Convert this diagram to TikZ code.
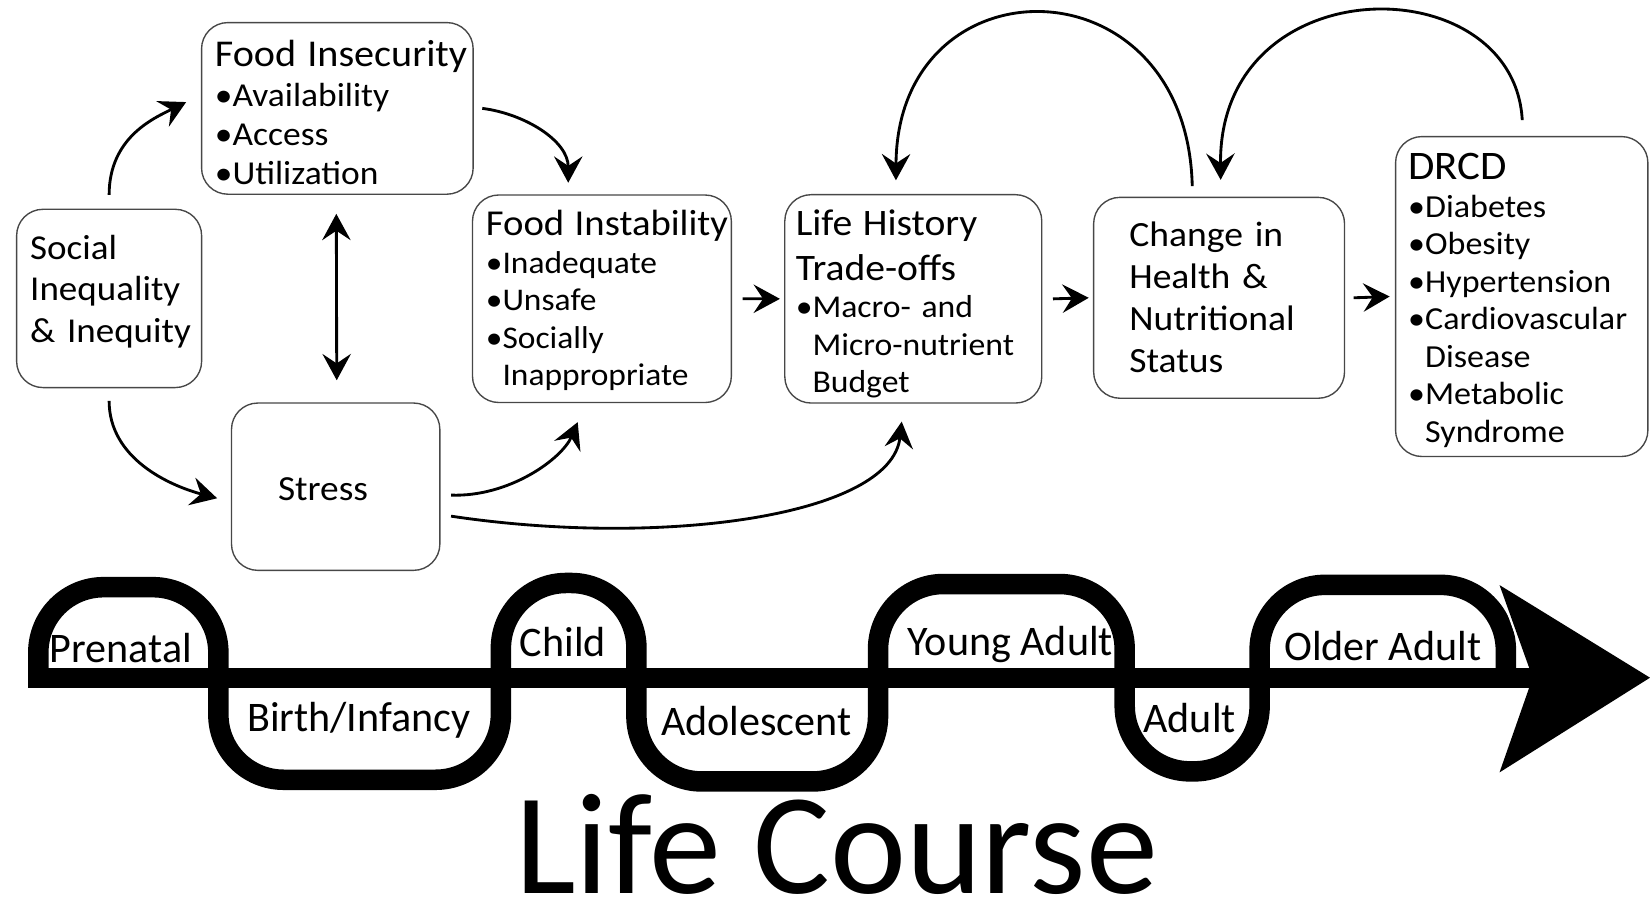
\documentclass[tikz,border=0pt]{standalone}
\usepackage{fontspec}
\setmainfont{Carlito}
\newfontfamily\boxfont{Carlito}[FakeStretch=1.06]
\usetikzlibrary{arrows.meta}
\begin{document}
\begin{tikzpicture}[x=1pt,y=-1pt,
  box/.style={draw=black!72, line width=1.3pt, rounded corners=25pt, inner sep=0pt},
  txt/.style={anchor=base west, inner sep=0pt, align=left, text width=300pt},
  tip/.tip={Stealth[length=25pt,width=27pt,inset=9pt]},
  arr/.style={-tip, line width=2.7pt},
  darr/.style={tip-tip, line width=2.7pt},
  lbl/.style={anchor=base, inner sep=0pt, font=\fontsize{40}{44}\selectfont},
  wave/.style={line width=19.5pt, rounded corners=62pt}
]
\useasboundingbox (0,0) rectangle (1568,857);

% boxes
\node[box, minimum width=175.8pt, minimum height=169.4pt] (si) at (103.7,283.6) {};
\node[box, minimum width=258.1pt, minimum height=163.1pt] (fi) at (320.6,103) {};
\node[box, minimum width=198pt, minimum height=159pt] (st) at (319,462.5) {};
\node[box, minimum width=246pt, minimum height=197.2pt] (fs) at (572,283.9) {};
\node[box, minimum width=244.2pt, minimum height=198pt] (lh) at (867.9,284) {};
\node[box, minimum width=238.4pt, minimum height=190.9pt] (ch) at (1158.5,283) {};
\node[box, minimum width=239.8pt, minimum height=304pt] (dr) at (1446.1,281.8) {};

% box texts
\node[txt, font=\boxfont\fontsize{33.2}{39.5}\selectfont] (siT) at (28.5,246.4) {Social\\Inequality\\\& Inequity};
\node[txt, font=\boxfont\fontsize{31.8}{37.5}\selectfont] (fiT) at (204,63.3) {{\fontsize{36}{37.5}\selectfont Food Insecurity}\\•Availability\\•Access\\•Utilization};
\node[txt, font=\boxfont\fontsize{33.5}{37}\selectfont] (stT) at (264,476) {Stress};
\node[txt, font=\boxfont\fontsize{30}{35.7}\selectfont] (fsT) at (461.5,224) {{\fontsize{34.7}{35.7}\selectfont Food Instability}\\•Inadequate\\•Unsafe\\•Socially\\\phantom{•}Inappropriate};
\node[txt, font=\boxfont\fontsize{30.2}{35.3}\selectfont] (lhT) at (756,224) {{\fontsize{35.5}{35}\selectfont Life History}\\[7.5pt]{\fontsize{35.5}{35}\selectfont Trade-offs}\\•Macro- and\\\phantom{•}Micro-nutrient\\\phantom{•}Budget};
\node[txt, font=\boxfont\fontsize{33.7}{39.8}\selectfont] (chT) at (1073,234.3) {Change in\\Health \&\\Nutritional\\Status};
\node[txt, font=\boxfont\fontsize{30.5}{35.6}\selectfont] (drT) at (1338,171) {{\fontsize{38.5}{35.6}\selectfont DRCD}\\•Diabetes\\•Obesity\\•Hypertension\\•Cardiovascular\\\phantom{•}Disease\\•Metabolic\\\phantom{•}Syndrome};

% connectors
\draw[arr] ([shift={(0,-13)}]si.north) .. controls +(0,-55) and +(-30,15) .. ([shift={(-14,-6)}]fi.west);
\draw[arr] ([shift={(0,12)}]si.south) .. controls +(0,55) and +(-45,-12) .. ([shift={(-13,11)}]st.west);
\draw[darr] ([shift={(-1,18)}]fi.south) -- ([shift={(1,-21)}]st.north);
\draw[arr] ([shift={(8,0)}]fi.east) .. controls +(40,5) and +(0,-40) .. ([shift={(-32,-11)}]fs.north);
\draw[arr] ([shift={(10,8)}]st.east) .. controls +(55,2) and +(-15,35) .. ([shift={(-23,18)}]fs.south);
\draw[arr] ([shift={(10,28)}]st.east) .. controls +(200,30) and +(-10,90) .. ([shift={(-11,17)}]lh.south);
\draw[arr] ([shift={(10,0)}]fs.east) -- ([shift={(-4,0)}]lh.west);
\draw[arr] ([shift={(10,0)}]lh.east) -- ([shift={(-4,0)}]ch.west);
\draw[arr] ([shift={(8,0)}]ch.east) -- ([shift={(-5,0)}]dr.west);
\draw[arr] ([shift={(-25.5,-10)}]ch.north) .. controls +(-5,-218) and +(1,-212) .. ([shift={(-16.5,-13)}]lh.north);
\draw[arr] ([shift={(0.5,-15)}]dr.north) .. controls +(-8,-147) and +(-2,-204) .. ([shift={(1.5,-16)}]ch.north);

% life course wave
\draw[line width=19pt] (26.9,644) -- (1470,644);
\draw[wave] (36.4,653.5) -- (36.4,558) -- (207.5,558) -- (207.5,741) -- (476,741) -- (476,554) -- (604.8,554)
  -- (604.8,742.6) -- (834.4,742.6) -- (834.4,555) -- (1068.8,555) -- (1068.8,733) -- (1197,733) -- (1197,555.8)
  -- (1431,555.8) -- (1431,653.5);
\draw[white, line width=4pt] (1422,548) -- (1452,632);
\fill (1425,556) -- (1568,644) -- (1425,734) -- (1456.5,644) -- cycle;

% life course labels
\node[lbl] (l1) at (114.8,629.6) {Prenatal};
\node[lbl] (l2) at (341,695.1) {Birth/Infancy};
\node[lbl] (l3) at (535,623.8) {Child};
\node[lbl] (l4) at (718.8,698.9) {Adolescent};
\node[lbl] (l5) at (960,623) {Young Adult};
\node[lbl] (l6) at (1130.5,695.7) {Adult};
\node[lbl] (l7) at (1314,627.7) {Older Adult};
\node[anchor=base, inner sep=0pt, text depth=0pt, font=\fontsize{137}{140}\selectfont] (lc) at (795,849) {Life Course};
\end{tikzpicture}
\end{document}
